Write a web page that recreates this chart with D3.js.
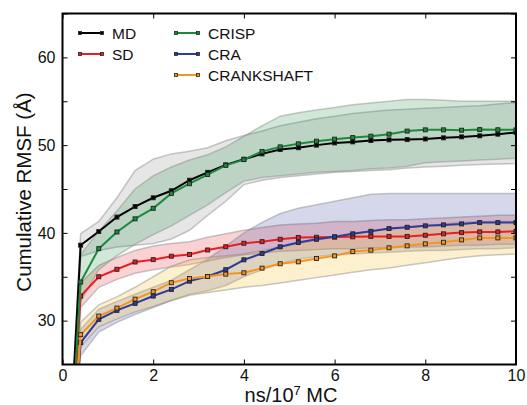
<!DOCTYPE html>
<html><head><meta charset="utf-8">
<script src="https://cdn.jsdelivr.net/npm/d3@7"></script>
<style>body{margin:0;background:#fff;} text{font-family:"Liberation Sans",Arial,sans-serif;}</style>
</head><body>
<svg id="chart" width="527" height="405"></svg>
<script>
const xs = [0, 0.4, 0.8, 1.2, 1.6, 2.0, 2.4, 2.8, 3.2, 3.6, 4.0, 4.4, 4.8, 5.2, 5.6, 6.0, 6.4, 6.8, 7.2, 7.6, 8.0, 8.4, 8.8, 9.2, 9.6, 10];
const seriesNames = ["MD", "SD", "CRISP", "CRA", "CRANKSHAFT"];
const md    = [0, 38.6, 40.15, 41.8, 43.0, 44.0, 44.8, 46.0, 46.9, 47.75, 48.4, 49.0, 49.5, 49.7, 50.0, 50.25, 50.37, 50.52, 50.6, 50.63, 50.7, 50.83, 50.94, 51.06, 51.25, 51.45];
const sd    = [0, 32.8, 35.0, 35.85, 36.68, 36.95, 37.34, 37.53, 38.05, 38.42, 38.82, 39.0, 39.27, 39.47, 39.5, 39.52, 39.55, 39.6, 39.6, 39.6, 39.73, 39.89, 40.03, 40.11, 40.11, 40.18];
const crisp = [0, 34.4, 38.2, 40.1, 41.6, 42.8, 44.5, 45.6, 46.65, 47.7, 48.35, 49.27, 49.8, 50.15, 50.45, 50.68, 50.86, 51.02, 51.25, 51.6, 51.74, 51.74, 51.7, 51.77, 51.75, 51.74];
const cra   = [0, 27.5, 30.15, 31.17, 31.97, 32.8, 33.56, 34.5, 35.03, 35.8, 36.93, 37.65, 38.41, 38.9, 39.27, 39.55, 39.89, 40.18, 40.49, 40.64, 40.8, 40.91, 41.02, 41.17, 41.17, 41.17];
const crank = [0, 28.4, 30.52, 31.43, 32.45, 33.3, 34.32, 34.8, 35.03, 35.3, 35.45, 35.98, 36.48, 36.7, 37.08, 37.38, 37.88, 38.03, 38.3, 38.52, 38.75, 38.93, 39.2, 39.43, 39.43, 39.43];

const mdLo    = [0, 37.3, 38.0, 38.4, 38.6, 38.8, 39.3, 40.3, 42.0, 43.6, 45.5, 46.0, 46.3, 46.5, 46.7, 46.9, 47.0, 47.1, 47.2, 47.4, 47.5, 47.6, 47.7, 47.8, 47.85, 47.9];
const mdHi    = [0, 39.9, 41.3, 44.0, 47.1, 48.4, 49.0, 49.3, 49.7, 50.5, 51.1, 51.6, 52.2, 52.6, 53.0, 53.3, 53.6, 53.8, 54.0, 54.1, 54.2, 54.3, 54.4, 54.5, 54.7, 54.85];
const sdLo    = [0, 31.5, 33.8, 34.7, 35.4, 35.8, 36.1, 36.4, 36.8, 37.2, 37.5, 37.7, 37.9, 38.0, 38.1, 38.2, 38.2, 38.3, 38.3, 38.4, 38.4, 38.5, 38.6, 38.6, 38.7, 38.7];
const sdHi    = [0, 34.3, 36.3, 37.2, 38.0, 38.5, 38.8, 39.0, 39.5, 39.9, 40.3, 40.6, 40.9, 41.0, 41.1, 41.3, 41.3, 41.4, 41.5, 41.5, 41.6, 41.7, 41.8, 41.9, 42.0, 42.0];
const crispLo = [0, 32.2, 35.8, 37.4, 38.7, 39.8, 40.8, 42.0, 43.2, 44.6, 45.9, 46.3, 46.5, 46.7, 46.9, 47.0, 47.1, 47.3, 47.4, 47.6, 48.0, 48.1, 48.2, 48.3, 48.4, 48.5];
const crispHi = [0, 37.5, 40.2, 42.5, 45.0, 46.5, 47.5, 48.3, 48.9, 49.8, 51.0, 52.2, 53.3, 53.7, 54.0, 54.3, 54.6, 54.8, 55.0, 55.2, 55.2, 55.1, 55.0, 55.0, 55.0, 55.0];
const craLo   = [0, 26.0, 28.7, 29.8, 30.7, 31.5, 32.3, 33.0, 33.4, 34.0, 35.0, 35.8, 36.5, 37.0, 37.3, 37.5, 37.6, 37.7, 37.8, 37.9, 38.0, 38.0, 38.1, 38.2, 38.2, 38.3];
const craHi   = [0, 29.0, 31.3, 32.2, 33.0, 33.8, 34.6, 35.8, 37.0, 38.5, 40.0, 41.2, 42.2, 42.8, 43.2, 43.6, 44.0, 44.4, 44.5, 44.5, 44.5, 44.5, 44.5, 44.5, 44.5, 44.5];
const crankLo = [0, 27.0, 29.3, 30.2, 31.0, 31.6, 32.3, 32.9, 33.2, 33.5, 33.8, 34.0, 34.3, 34.6, 34.9, 35.2, 35.5, 35.8, 36.0, 36.3, 36.6, 36.9, 37.2, 37.4, 37.5, 37.6];
const crankHi = [0, 29.8, 31.8, 32.7, 33.8, 35.0, 36.2, 36.9, 37.2, 37.4, 37.6, 38.0, 38.4, 38.8, 39.2, 39.5, 39.9, 40.2, 40.4, 40.6, 40.8, 41.0, 41.2, 41.3, 41.3, 41.3];

const xTicks = [0, 2, 4, 6, 8, 10];
const yTicks = [30, 35, 40, 45, 50, 55, 60, 65];
const yLabels = [30, 40, 50, 60];

const colors = {MD:"#000000", SD:"#ec1c24", CRISP:"#1b8a3c", CRA:"#2e3a9c", CRANKSHAFT:"#f7941d"};
const bandColors = {MD:"#808080", SD:"#ec1c24", CRISP:"#1b8a3c", CRA:"#2e3a9c", CRANKSHAFT:"#f7c23d"};

const series = [
  {name:"MD", v:md, lo:mdLo, hi:mdHi},
  {name:"SD", v:sd, lo:sdLo, hi:sdHi},
  {name:"CRISP", v:crisp, lo:crispLo, hi:crispHi},
  {name:"CRA", v:cra, lo:craLo, hi:craHi},
  {name:"CRANKSHAFT", v:crank, lo:crankLo, hi:crankHi}
];

const L = 62.5, T = 13.5, W = 453.5, H = 351;
const svg = d3.select("#chart");
const x = d3.scaleLinear().domain([0, 10]).range([L, L + W]);
const y = d3.scaleLinear().domain([25, 65]).range([T + H, T]);

svg.append("defs").append("clipPath").attr("id", "clip")
  .append("rect").attr("x", L).attr("y", T).attr("width", W).attr("height", H);

const g = svg.append("g").attr("clip-path", "url(#clip)");

const area = d3.area().x((d) => x(d.x)).y0((d) => y(d.lo)).y1((d) => y(d.hi));
const line = d3.line().x((d) => x(d.x)).y((d) => y(d.y));

series.forEach((s) => {
  const pts = xs.map((xv, i) => ({x: xv, lo: s.lo[i], hi: s.hi[i]}));
  g.append("path").datum(pts).attr("d", area)
    .attr("fill", bandColors[s.name]).attr("fill-opacity", s.name === "CRANKSHAFT" ? 0.25 : 0.2)
    .attr("stroke", "#888").attr("stroke-opacity", 0.45).attr("stroke-width", 1.5);
});

series.forEach((s) => {
  const pts = xs.map((xv, i) => ({x: xv, y: s.v[i]}));
  g.append("path").datum(pts).attr("d", line)
    .attr("fill", "none").attr("stroke", colors[s.name]).attr("stroke-width", 2);
  g.selectAll(null).data(pts.slice(1)).enter().append("rect")
    .attr("x", (d) => x(d.x) - 2).attr("y", (d) => y(d.y) - 2)
    .attr("width", 4).attr("height", 4)
    .attr("fill", colors[s.name]).attr("stroke", "#222").attr("stroke-width", 0.9);
});

// axes with inward ticks
const fmt = (d) => d;
const axB = d3.axisBottom(x).tickValues(xTicks).tickSizeInner(-5).tickSizeOuter(0).tickPadding(5).tickFormat(fmt);
const axT = d3.axisTop(x).tickValues(xTicks).tickSizeInner(-5).tickSizeOuter(0).tickFormat("");
const axL = d3.axisLeft(y).tickValues(yTicks).tickSizeInner(-5).tickSizeOuter(0).tickPadding(7)
  .tickFormat((d) => yLabels.includes(d) ? d : "");
const axR = d3.axisRight(y).tickValues(yTicks).tickSizeInner(-5).tickSizeOuter(0).tickFormat("");

function styleAxis(sel) {
  sel.select(".domain").remove();
  sel.selectAll(".tick line").attr("stroke", "#000").attr("stroke-width", 1);
  sel.selectAll(".tick text").attr("font-size", 16).attr("fill", "#111")
    .style("font-family", "'Liberation Sans', Arial, sans-serif");
}
svg.append("g").attr("transform", `translate(0,${T + H})`).call(axB).call(styleAxis);
svg.append("g").attr("transform", `translate(0,${T})`).call(axT).call(styleAxis);
svg.append("g").attr("transform", `translate(${L},0)`).call(axL).call(styleAxis);
svg.append("g").attr("transform", `translate(${L + W},0)`).call(axR).call(styleAxis);

svg.append("rect").attr("x", L).attr("y", T).attr("width", W).attr("height", H)
  .attr("fill", "none").attr("stroke", "#000").attr("stroke-width", 2);

// axis titles
svg.append("text").attr("x", 291).attr("y", 402).attr("text-anchor", "middle")
  .attr("font-size", 20).attr("fill", "#111")
  .html('ns/10<tspan dy="-7" font-size="13">7</tspan><tspan dy="7"> MC</tspan>');
svg.append("text").attr("transform", "translate(31,192) rotate(-90)")
  .attr("text-anchor", "middle").attr("font-size", 20.5).attr("fill", "#111")
  .text("Cumulative RMSF (Å)");

// legend
const legendPos = [
  {name:"MD", lx:80, ty:33},
  {name:"SD", lx:80, ty:54},
  {name:"CRISP", lx:176, ty:33},
  {name:"CRA", lx:176, ty:54},
  {name:"CRANKSHAFT", lx:176, ty:75}
];
const lg = svg.append("g");
legendPos.forEach((p) => {
  lg.append("line").attr("x1", p.lx).attr("x2", p.lx + 22).attr("y1", p.ty).attr("y2", p.ty)
    .attr("stroke", colors[p.name]).attr("stroke-width", 2);
  [p.lx, p.lx + 22].forEach((mx) => {
    lg.append("rect").attr("x", mx - 1.5).attr("y", p.ty - 1.5).attr("width", 3).attr("height", 3)
      .attr("fill", colors[p.name]).attr("stroke", "#222").attr("stroke-width", 0.8);
  });
  lg.append("text").attr("x", p.lx + 32).attr("y", p.ty + 5.5).attr("font-size", 15.5).attr("fill", "#111")
    .text(p.name);
});
</script>
</body></html>
